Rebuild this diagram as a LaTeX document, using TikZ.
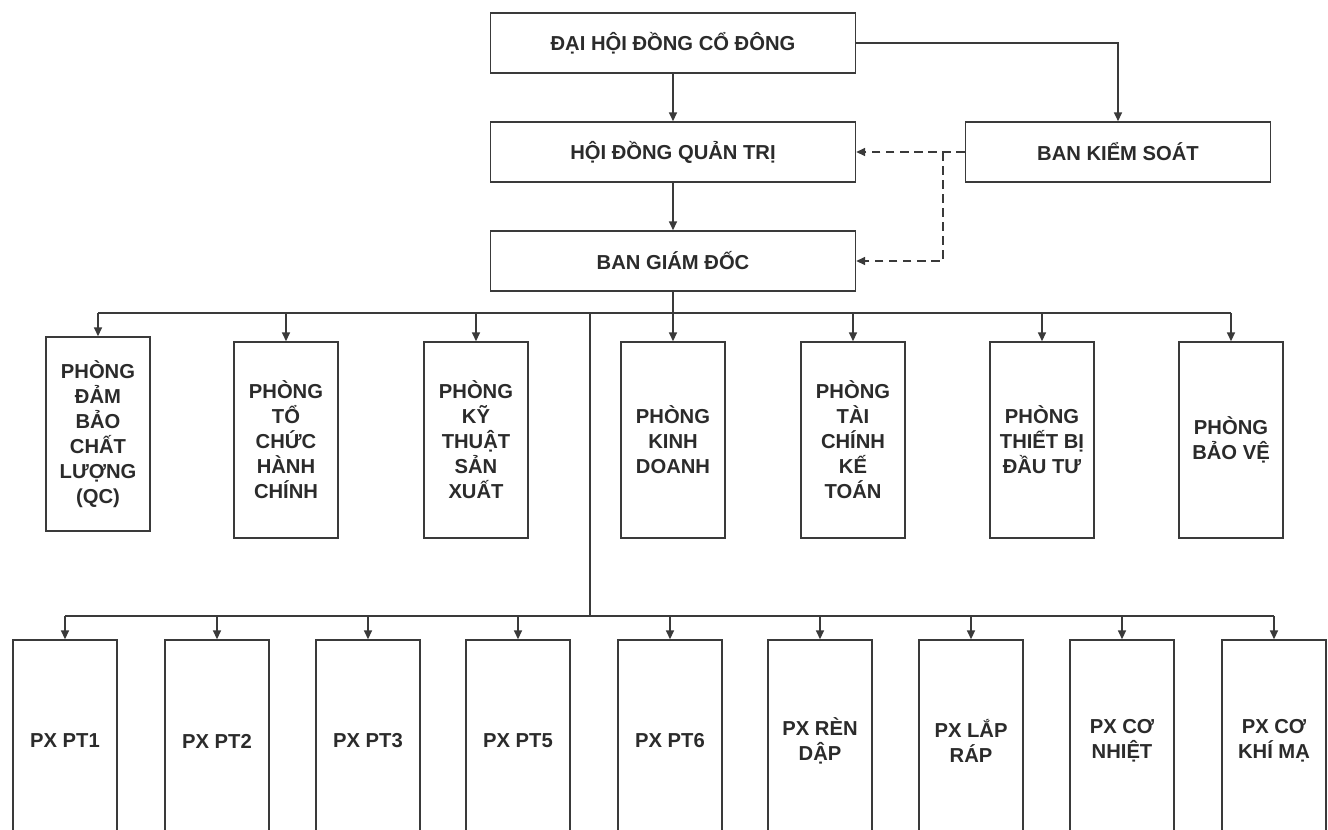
\documentclass[tikz,border=0pt]{standalone}
\usepackage{fontspec}
\setmainfont{Liberation Sans}
\usetikzlibrary{arrows.meta}
\definecolor{cLine}{HTML}{3A3A3A}
\definecolor{cText}{HTML}{2B2B2B}

\begin{document}
\begin{tikzpicture}[x=0.02cm,y=-0.02cm,>={Triangle[length=5pt,width=4.5pt]},
   hq/.style={draw=cLine,line width=0.9pt,minimum width=7.3cm,minimum height=1.2cm,
              inner sep=0pt,font=\fontsize{11.5}{14.2}\selectfont\bfseries,text=cText},
   pb/.style={draw=cLine,line width=0.9pt,minimum width=2.08cm,minimum height=3.92cm,
              inner sep=0pt,align=center,font=\fontsize{11.5}{14.2}\selectfont\bfseries,text=cText},
   pxb/.style={pb,minimum height=4.04cm},
   wire/.style={cLine,line width=0.9pt},
   link/.style={wire,->},
   ctrl/.style={link,dash pattern=on 5pt off 3pt}]
  \clip (0,0) rectangle (1328,829);
  \fill[white] (0,0) rectangle (1328,829);
  % governing bodies
  \node[hq] (dh) at (673,43) {ĐẠI HỘI ĐỒNG CỔ ĐÔNG};
  \node[hq] (hd) at (673,152) {HỘI ĐỒNG QUẢN TRỊ};
  \node[hq,minimum width=6.1cm] (ks) at (1118,152) {BAN KIỂM SOÁT};
  \node[hq] (gd) at (673,261) {BAN GIÁM ĐỐC};
  % departments
  \node[pb,minimum height=3.88cm] (p1) at (98,434) {PHÒNG\\ĐẢM\\BẢO\\CHẤT\\LƯỢNG\\(QC)};
  \node[pb] (p2) at (286,440) {PHÒNG\\TỔ\\CHỨC\\HÀNH\\CHÍNH};
  \node[pb] (p3) at (476,440) {PHÒNG\\KỸ\\THUẬT\\SẢN\\XUẤT};
  \node[pb] (p4) at (673,440) {PHÒNG\\KINH\\DOANH};
  \node[pb] (p5) at (853,440) {PHÒNG\\TÀI\\CHÍNH\\KẾ\\TOÁN};
  \node[pb] (p6) at (1042,440) {PHÒNG\\THIẾT BỊ\\ĐẦU TƯ};
  \node[pb] (p7) at (1231,440) {PHÒNG\\BẢO VỆ};
  % workshops
  \foreach \n/\x/\t in {1/65/{PX PT1},2/217/{PX PT2},3/368/{PX PT3},4/518/{PX PT5},
      5/670/{PX PT6},6/820/{PX RÈN\\DẬP},7/971/{PX LẮP\\RÁP},8/1122/{PX CƠ\\NHIỆT},
      9/1274/{PX CƠ\\KHÍ MẠ}}
    \node[pxb] (x\n) at (\x,741) {\t};
  \coordinate (b1) at (673,313);
  \coordinate (b2) at (590,616);
  \coordinate (kb) at (943,152);
  % connectors
  \draw[link] (dh) -- (hd);
  \draw[link] (dh.east) -| (ks.north);
  \draw[link] (hd) -- (gd);
  \draw[ctrl] (ks.west) -- (hd.east);
  \draw[ctrl] (kb) |- (gd.east);
  \draw[wire] (gd.south) -- (b1);
  \draw[wire] (p1.north |- b1) -- (p7.north |- b1);
  \foreach \i in {1,...,7} \draw[link] (p\i.north |- b1) -- (p\i.north);
  \draw[wire] (b2 |- b1) -- (b2);
  \draw[wire] (x1.north |- b2) -- (x9.north |- b2);
  \foreach \i in {1,...,9} \draw[link] (x\i.north |- b2) -- (x\i.north);
\end{tikzpicture}
\end{document}
